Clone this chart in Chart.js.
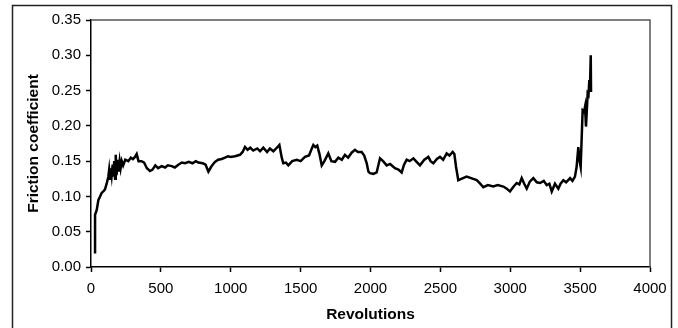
<!DOCTYPE html>
<html>
<head>
<meta charset="utf-8">
<script src="https://cdn.jsdelivr.net/npm/chart.js@4/dist/chart.umd.min.js"></script>
<style>
  html, body { margin: 0; padding: 0; background: #fff; }
  #wrap { width: 678px; height: 328px; position: relative; }
</style>
</head>
<body>
<div id="wrap"><canvas id="chart" width="678" height="328"></canvas></div>
<script>
// readings: revolutions vs friction coefficient
const revs = [
  29, 29, 41, 53, 65, 76, 88, 100, 112, 124, 130, 136, 142, 148, 155, 160, 166, 172, 177, 183,
  190, 197, 205, 212, 220, 230, 245, 267, 285, 300, 315, 327, 340, 362, 380, 400, 422, 440, 460, 480,
  506, 530, 550, 577, 600, 625, 650, 673, 700, 725, 750, 768, 800, 820, 840, 860, 887, 910, 935, 959,
  980, 1000, 1030, 1066, 1085, 1102, 1120, 1140, 1161, 1190, 1210, 1233, 1260, 1280, 1305, 1330, 1348, 1365, 1376, 1395,
  1412, 1440, 1472, 1500, 1531, 1560, 1580, 1591, 1605, 1619, 1635, 1651, 1670, 1698, 1720, 1746, 1770, 1795, 1817, 1840,
  1865, 1889, 1910, 1937, 1955, 1973, 1985, 1996, 2020, 2044, 2068, 2090, 2116, 2140, 2175, 2200, 2223, 2240, 2259, 2280,
  2307, 2330, 2354, 2385, 2414, 2430, 2450, 2475, 2497, 2520, 2545, 2565, 2588, 2600, 2612, 2628, 2650, 2688, 2720, 2760,
  2785, 2807, 2840, 2879, 2910, 2951, 2975, 2998, 3020, 3046, 3065, 3082, 3100, 3118, 3140, 3165, 3190, 3213, 3240, 3261,
  3280, 3297, 3320, 3344, 3360, 3380, 3400, 3428, 3445, 3463, 3475, 3487, 3495, 3504, 3518, 3528, 3535, 3542, 3554, 3560,
  3566, 3570, 3576, 3578
]
const friction = [
  0.019, 0.074, 0.081, 0.095, 0.100, 0.105, 0.107, 0.110, 0.118, 0.128, 0.138, 0.125, 0.140, 0.130, 0.145, 0.128, 0.150, 0.125, 0.159, 0.130,
  0.152, 0.135, 0.150, 0.140, 0.150, 0.144, 0.152, 0.150, 0.155, 0.153, 0.156, 0.160, 0.150, 0.150, 0.148, 0.140, 0.136, 0.138, 0.144, 0.140,
  0.143, 0.141, 0.144, 0.143, 0.141, 0.145, 0.148, 0.147, 0.149, 0.147, 0.150, 0.148, 0.147, 0.145, 0.135, 0.142, 0.149, 0.152, 0.153, 0.155,
  0.157, 0.156, 0.157, 0.159, 0.163, 0.170, 0.166, 0.169, 0.165, 0.168, 0.164, 0.169, 0.163, 0.168, 0.164, 0.169, 0.173, 0.155, 0.147, 0.148,
  0.144, 0.150, 0.152, 0.150, 0.156, 0.158, 0.168, 0.173, 0.170, 0.172, 0.160, 0.144, 0.150, 0.161, 0.150, 0.149, 0.155, 0.152, 0.159, 0.155,
  0.162, 0.166, 0.163, 0.163, 0.158, 0.147, 0.135, 0.133, 0.132, 0.134, 0.154, 0.150, 0.144, 0.146, 0.140, 0.138, 0.134, 0.145, 0.152, 0.150,
  0.154, 0.149, 0.144, 0.152, 0.156, 0.150, 0.147, 0.153, 0.156, 0.152, 0.161, 0.158, 0.163, 0.160, 0.142, 0.123, 0.125, 0.128, 0.126, 0.123,
  0.118, 0.113, 0.116, 0.114, 0.116, 0.114, 0.111, 0.107, 0.113, 0.119, 0.117, 0.126, 0.118, 0.111, 0.121, 0.126, 0.120, 0.119, 0.122, 0.116,
  0.118, 0.107, 0.118, 0.111, 0.118, 0.123, 0.120, 0.126, 0.122, 0.128, 0.142, 0.170, 0.152, 0.142, 0.222, 0.220, 0.227, 0.199, 0.246, 0.244,
  0.265, 0.250, 0.300, 0.248
]

const xTicks = [0, 500, 1000, 1500, 2000, 2500, 3000, 3500, 4000]
const yTicks = [0, 0.05, 0.10, 0.15, 0.20, 0.25, 0.30, 0.35]

const FONT = "'Liberation Sans', Arial, sans-serif"

// outer frame + box around the plot area
const frame = {
  id: 'frame',
  afterDraw(chart) {
    const { ctx, chartArea: a } = chart
    ctx.save()
    ctx.strokeStyle = '#555'
    ctx.lineWidth = 1.5
    ctx.beginPath()
    ctx.moveTo(a.left, a.top)
    ctx.lineTo(a.right, a.top)
    ctx.lineTo(a.right, a.bottom)
    ctx.stroke()
    ctx.strokeStyle = '#222'
    ctx.lineWidth = 1.5
    ctx.strokeRect(12.5, 5.5, 659, 340)
    ctx.restore()
  }
}

new Chart(document.getElementById('chart'), {
  type: 'line',
  data: {
    datasets: [{
      data: revs.map((r, i) => ({ x: r, y: friction[i] })),
      borderColor: '#000',
      borderWidth: 2.5,
      pointRadius: 0,
      tension: 0,
      fill: false,
    }]
  },
  options: {
    responsive: false,
    animation: false,
    events: [],
    layout: { padding: { top: 20, right: 28, left: 0, bottom: 0 } },
    plugins: { legend: { display: false }, tooltip: { enabled: false } },
    scales: {
      x: {
        type: 'linear',
        min: 0, max: 4000,
        afterBuildTicks: s => { s.ticks = xTicks.map(v => ({ value: v })) },
        afterFit: s => { s.height = 61 },
        grid: { drawOnChartArea: false, drawTicks: true, tickLength: 5, color: '#000', tickWidth: 1.5 },
        border: { color: '#000', width: 1.5 },
        ticks: { color: '#000', font: { family: FONT, size: 15 }, padding: 8, maxRotation: 0, callback: v => String(v) },
        title: { display: true, text: 'Revolutions', color: '#000', font: { family: FONT, size: 15.5, weight: 'bold' }, padding: { top: 2, bottom: 4 } },
      },
      y: {
        min: 0, max: 0.35,
        afterBuildTicks: s => { s.ticks = yTicks.map(v => ({ value: v })) },
        afterFit: s => { s.width = 91 },
        grid: { drawOnChartArea: false, drawTicks: true, tickLength: 5, color: '#000', tickWidth: 1.5 },
        border: { color: '#000', width: 1.5 },
        ticks: { color: '#000', font: { family: FONT, size: 15 }, padding: 5, callback: v => v.toFixed(2) },
        title: { display: true, text: 'Friction coefficient', color: '#000', font: { family: FONT, size: 15.5, weight: 'bold' }, padding: { top: 24, bottom: 0 } },
      }
    }
  },
  plugins: [frame]
})
</script>
</body>
</html>
